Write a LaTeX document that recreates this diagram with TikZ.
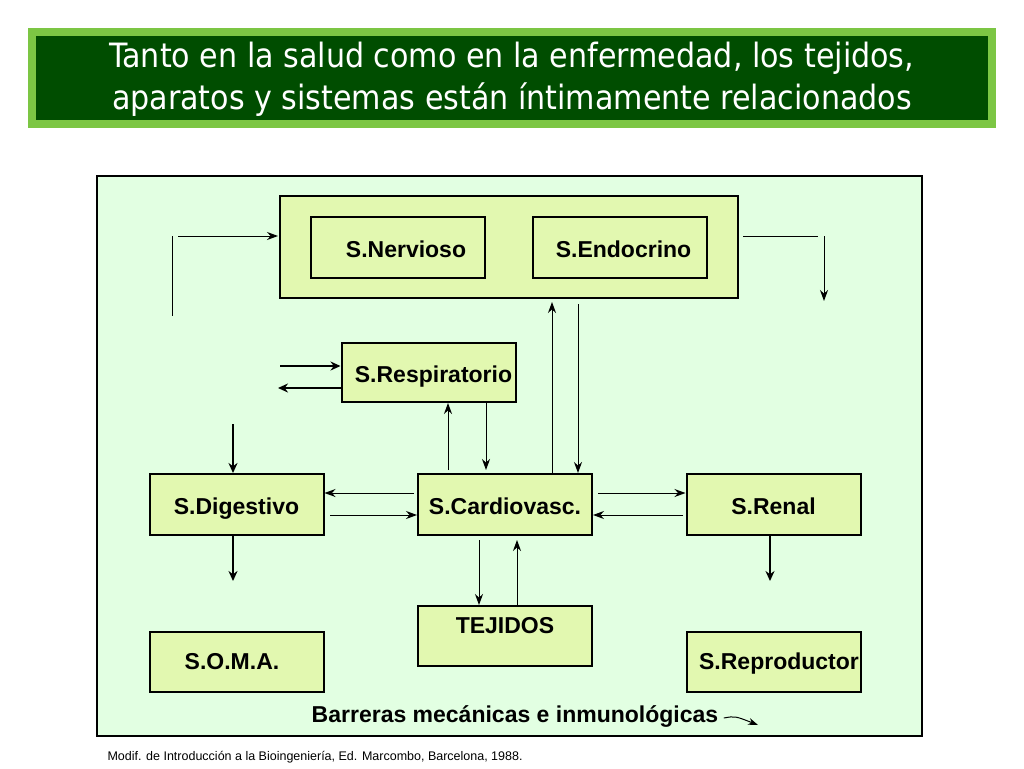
\documentclass[tikz,border=0pt]{standalone}
\usepackage{fontspec}
\setmainfont{Liberation Sans}
\newfontfamily\titlefont{DejaVu Sans Condensed}
\usetikzlibrary{arrows.meta}
\definecolor{panel}{HTML}{E2FFE2}
\definecolor{boxfill}{HTML}{E2F8B0}
\definecolor{darkgreen}{HTML}{004D00}
\definecolor{lightgreen}{HTML}{7CC644}
\tikzset{
  sysfont/.style={font=\fontsize{23}{26}\selectfont\bfseries, text height=20pt, text depth=0pt},
  sysbox/.style={draw=black, line width=2pt, fill=boxfill, minimum width=174pt, minimum height=61pt, inner sep=0pt, sysfont},
  flow/.style={line width=1pt, -{Stealth[length=11pt,width=8pt]}},
  thickflow/.style={line width=2.2pt, -{Stealth[length=10pt,width=9pt]}}
}
\begin{document}
\begin{tikzpicture}[x=1pt,y=-1pt]
    \useasboundingbox (0,0) rectangle (1024,768);
    \fill[white] (0,0) rectangle (1024,768);
    % title
    \draw[fill=darkgreen, draw=lightgreen, line width=8pt] (32,32) rectangle (992,124);
    \node[text=white, align=center, font=\titlefont\fontsize{33.5}{42}\selectfont] (title) at (512,79) {Tanto en la salud como en la enfermedad, los tejidos,\\aparatos y sistemas están íntimamente relacionados};
    % panel
    \draw[fill=panel, line width=2pt] (97,176) rectangle (922,736);
    \draw[fill=boxfill, line width=2pt] (280,196) rectangle (738,298);
    \node[sysbox] (nerv) at (398,247.5) {\hspace{16pt}S.Nervioso};
    \node[sysbox] (endo) at (619.5,247.5) {\hspace{8pt}S.Endocrino};
    \node[sysbox, minimum height=59pt] (resp) at (428.5,372.5) {\hspace{10pt}S.Respiratorio};
    \node[sysbox] (dige) at (236.5,504.5) {S.Digestivo};
    \node[sysbox] (card) at (505,504.5) {S.Cardiovasc.};
    \node[sysbox] (rena) at (773.5,504.5) {S.Renal};
    \node[sysbox, minimum height=60pt, text depth=26pt] (teji) at (505,636) {TEJIDOS};
    \node[sysbox, minimum height=60pt, anchor=north] (soma) at (236.5,631) {};
    \node[sysfont] at (232,659) {S.O.M.A.};
    \node[sysbox, minimum height=60pt, anchor=north] (repr) at (773.5,631) {};
    \node[sysfont] at (779,659) {S.Reproductor};
    % loops at the top
    \draw[line width=1pt] (172,236) -- (172,316);
    \draw[flow] (178,236) -- (278,236);
    \draw[line width=1pt] (743,236) -- (818,236);
    \draw[flow] (824,236) -- (824,301);
    % respiratorio
    \draw[thickflow] (280,366) -- (resp.west |- 0,366);
    \draw[thickflow] (resp.west |- 0,388) -- (278,388);
    \draw[flow] (448,470) -- (resp.south -| 448,0);
    \draw[flow] (resp.south -| 486,0) -- (486,470);
    % cardiovascular to the top box
    \draw[flow] (card.north -| 552,0) -- (552,302);
    \draw[flow] (578,304) -- (card.north -| 578,0);
    % digestivo
    \draw[thickflow] (233,424) -- (dige.north -| 233,0);
    \draw[thickflow] (dige.south -| 233,0) -- (233,581);
    \draw[flow] (414,493) -- (dige.east |- 0,493);
    \draw[flow] (330,515) -- (card.west |- 0,515);
    % renal
    \draw[flow] (598,493) -- (rena.west |- 0,493);
    \draw[flow] (683,515) -- (card.east |- 0,515);
    \draw[thickflow] (rena.south -| 770,0) -- (770,581);
    % tejidos
    \draw[flow] (479,540) -- (teji.north -| 479,0);
    \draw[flow] (teji.north -| 517,0) -- (517,540);
    % barreras
    \node[sysfont] (barr) at (515,712) {Barreras mecánicas e inmunológicas};
    \draw[line width=1pt, -{Stealth[length=10pt,width=7pt]}] (barr.east) ++(2,6) .. controls (735,716) .. (758,725);
    \node[anchor=west, font=\fontsize{12.5}{14}\selectfont] (ref) at (104,757) {Modif. de Introducción a la Bioingeniería, Ed. Marcombo, Barcelona, 1988.};
\end{tikzpicture}
\end{document}
